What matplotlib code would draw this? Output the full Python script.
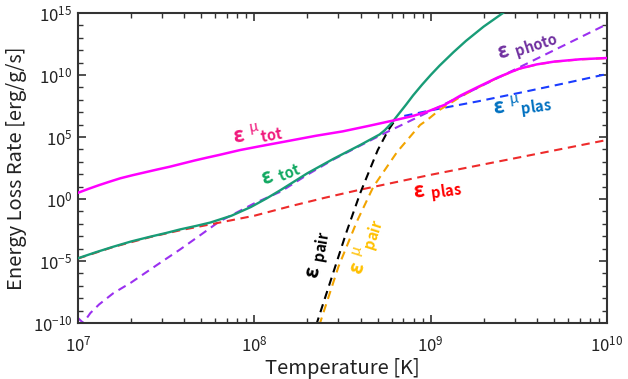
import numpy as np
import matplotlib
matplotlib.use("Agg")
import matplotlib.pyplot as plt
from matplotlib.ticker import LogLocator, FuncFormatter, NullFormatter

plt.rcParams['font.family'] = ['Noto Sans CJK JP', 'DejaVu Sans']
plt.rcParams['mathtext.fontset'] = 'custom'
plt.rcParams['mathtext.rm'] = 'Noto Sans CJK JP'
plt.rcParams['mathtext.it'] = 'Noto Sans CJK JP'
plt.rcParams['mathtext.bf'] = 'Noto Sans CJK JP:bold'

# values, log10(T [K]) and log10(rate [erg/g/s])
mu_tot_T = [7.0, 7.06, 7.12, 7.18, 7.24, 7.31, 7.38, 7.45, 7.52, 7.59, 7.66, 7.73, 7.8, 7.92,
            8.03, 8.2, 8.35, 8.5, 8.65, 8.81, 8.9, 8.98, 9.08, 9.17, 9.27, 9.38, 9.5, 9.6,
            9.7, 9.85, 10.0]
mu_tot_E = [0.5, 0.82, 1.12, 1.4, 1.67, 1.92, 2.15, 2.38, 2.6, 2.85, 3.1, 3.33, 3.55, 3.95,
            4.25, 4.7, 5.1, 5.45, 5.9, 6.4, 6.7, 7.04, 7.6, 8.35, 9.05, 9.8, 10.5, 10.85,
            11.08, 11.27, 11.37]

tot_T = [7.0, 7.1, 7.2, 7.3, 7.41, 7.5, 7.58, 7.67, 7.75, 7.87, 7.98, 8.07, 8.15, 8.3, 8.45,
         8.6, 8.71, 8.74, 8.78, 8.81, 8.86, 8.9, 8.95, 9.0, 9.05, 9.13, 9.2, 9.3, 9.42]
tot_E = [-4.78, -4.3, -3.85, -3.43, -3.04, -2.74, -2.45, -2.17, -1.9, -1.35, -0.65, 0.05, 0.73,
         2.07, 3.25, 4.35, 5.2, 5.55, 6.15, 6.7, 7.6, 8.35, 9.2, 10.0, 10.75, 11.85, 12.75,
         13.9, 15.1]

plas_T = [7.0, 7.2, 7.41, 7.58, 7.75, 8.0, 8.2, 8.4, 8.6, 9.0, 9.5, 10.0]
plas_E = [-4.8, -3.87, -3.07, -2.52, -2.05, -1.35, -0.6, 0.1, 0.75, 1.95, 3.35, 4.76]

photo_T = [7.0, 7.03, 7.07, 7.12, 7.2, 7.3, 7.45, 7.58, 7.7, 7.8, 8.0, 8.15, 8.3, 8.45,
           8.6, 8.71, 8.76, 9.0, 9.5, 10.0]
photo_E = [-9.6, -10.0, -9.2, -8.5, -7.6, -6.75, -5.3, -4.06, -2.85, -1.83, -0.35, 0.6, 1.95, 3.2,
           4.3, 5.1, 5.45, 7.1, 10.6, 14.1]

mu_plas_T = [8.85, 9.0, 9.27, 9.5, 9.75, 10.0]
mu_plas_E = [6.7, 7.15, 7.88, 8.55, 9.3, 10.08]

pair_T = [8.35, 8.44, 8.52, 8.6, 8.7, 8.76, 8.8]
pair_E = [-10.2, -6.27, -2.77, 0.46, 3.95, 5.56, 6.4]

mu_pair_T = [8.368, 8.477, 8.581, 8.675, 8.81, 8.94, 8.98, 9.05, 9.17, 9.27, 9.38, 9.5, 9.6,
             9.7, 9.85, 10.0]
mu_pair_E = [-10.2, -5.46, -1.83, 0.99, 3.8, 5.97, 6.37, 7.18, 8.25, 9.0, 9.78, 10.49, 10.84,
             11.07, 11.26, 11.36]

fig = plt.figure(figsize=(6.28, 3.79), dpi=100)
ax = fig.add_axes([0.1242, 0.1478, 0.8424, 0.8179])


def p(T, E):
    return 10 ** np.array(T), 10 ** np.array(E)


dash = dict(lw=1.5, dashes=(4, 2.7))
ax.plot(*p(mu_plas_T, mu_plas_E), color='#1a3cff', zorder=2, **dash)
ax.plot(*p(mu_pair_T, mu_pair_E), color='#f2a400', zorder=2, **dash)
ax.plot(*p(photo_T, photo_E), color='#9b30f0', zorder=2, **dash)
ax.plot(*p(plas_T, plas_E), color='#ee2b2b', zorder=2, **dash)
ax.plot(*p(pair_T, pair_E), color='black', zorder=2, **dash)
ax.plot(*p(tot_T, tot_E), color='#189c77', lw=1.7, zorder=3)
ax.plot(*p(mu_tot_T, mu_tot_E), color='#ff00ff', lw=1.8, zorder=4)

ax.set_xscale('log')
ax.set_yscale('log')
ax.set_xlim(1e7, 1e10)
ax.set_ylim(1e-10, 1e15)

ax.xaxis.set_major_locator(LogLocator(base=10, numticks=10))
ax.xaxis.set_minor_locator(LogLocator(base=10, subs=np.arange(2, 10), numticks=20))
ax.set_yticks([10.0 ** k for k in range(-10, 16, 5)])
ax.yaxis.set_minor_locator(LogLocator(base=10, subs=(1.0,), numticks=40))
ax.xaxis.set_minor_formatter(NullFormatter())
ax.yaxis.set_minor_formatter(NullFormatter())
fmt = FuncFormatter(lambda v, pos: r'$\mathregular{10^{%d}}$' % round(np.log10(v)))
ax.xaxis.set_major_formatter(fmt)
ax.yaxis.set_major_formatter(fmt)

ax.tick_params(which='both', direction='in', top=True, right=True, color='#333333',
               labelsize=12, labelcolor='#222222')
ax.tick_params(which='major', length=6, width=1.2)
ax.tick_params(which='minor', length=3.5, width=1.0)
ax.tick_params(axis='x', pad=9)
ax.tick_params(axis='y', pad=4)
for s in ax.spines.values():
    s.set_color('#333333')
    s.set_linewidth(1.5)

ax.set_xlabel('Temperature [K]', fontsize=14.5, color='#222222', labelpad=2)
ax.set_ylabel('Energy Loss Rate [erg/g/s]', fontsize=14.5, color='#222222', labelpad=4)

lab = dict(fontsize=15, ha='center', va='center', rotation_mode='anchor')
ax.text(10 ** 8.02, 10 ** 5.3, r'$\mathbf{ε}\ ^{\mu}{}_{\mathbf{tot}}$', color='#f0187c',
        rotation=10, **lab)
ax.text(10 ** 8.15, 10 ** 2.1, r'$\mathbf{ε}\ {}_{\mathbf{tot}}$', color='#10a860',
        rotation=22, **lab)
ax.text(10 ** 9.55, 10 ** 12.2, r'$\mathbf{ε}\ {}_{\mathbf{photo}}$', color='#7030a0',
        rotation=18, **lab)
ax.text(10 ** 9.52, 10 ** 7.5, r'$\mathbf{ε}\ ^{\mu}{}_{\mathbf{plas}}$', color='#0070c0',
        rotation=8, **lab)
ax.text(10 ** 9.04, 10 ** 0.5, r'$\mathbf{ε}\ {}_{\mathbf{plas}}$', color='#ff0000',
        rotation=8, **lab)
ax.text(10 ** 8.37, 10 ** -4.5, r'$\mathbf{ε}\ {}_{\mathbf{pair}}$', color='black',
        rotation=80, **lab)
ax.text(10 ** 8.64, 10 ** -3.9, r'$\mathbf{ε}\ ^{\mu}{}_{\mathbf{pair}}$', color='#ffc000',
        rotation=72, **lab)

fig.savefig('out.png', dpi=100)
